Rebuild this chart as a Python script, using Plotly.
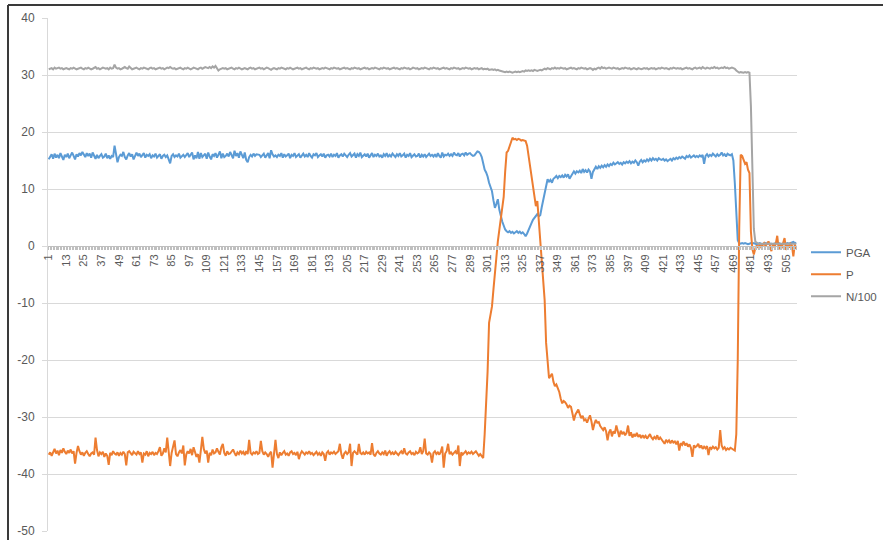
import plotly.graph_objects as go

N_POINTS = 512
categories = list(range(1, N_POINTS + 1))
tick_labels = [str(c) for c in range(1, 506, 12)]

pga = [
    15.2, 15.6, 16.1, 15.3, 16.2, 15.5, 16.0, 15.4, 16.3, 15.7, 15.1, 16.0,
    15.6, 16.2, 15.4, 15.9, 16.4, 15.8, 15.2, 16.1, 15.7, 16.3, 15.9, 16.5,
    16.0, 15.6, 16.3, 15.8, 16.2, 15.5, 16.4, 15.9, 15.3, 16.0, 15.4, 15.8,
    16.1, 15.5, 15.7, 16.2, 15.4, 15.9, 15.3, 15.8, 15.6, 17.6, 16.0, 14.7,
    15.6, 16.0, 15.8, 16.5, 15.6, 15.2, 15.9, 16.3, 15.7, 16.1, 15.2, 15.9,
    16.4, 15.8, 16.2, 15.6, 15.9, 16.3, 15.5, 16.0, 15.8, 16.1, 15.4, 15.9,
    15.7, 16.2, 15.5, 15.9, 16.1, 15.3, 15.8, 16.0, 15.6, 15.9, 15.2, 14.5,
    15.8, 16.1, 15.6, 15.9, 15.7, 16.2, 15.5, 15.8, 16.0, 15.6, 15.9, 16.3,
    15.6, 15.9, 16.4, 15.2, 15.9, 15.4, 16.5, 15.3, 16.3, 15.6, 15.9, 16.2,
    15.3, 16.4, 15.7, 15.2, 16.1, 15.8, 16.3, 15.5, 16.0, 16.6, 15.4, 16.2,
    15.6, 15.8, 16.2, 15.7, 16.5, 15.9, 15.4, 16.7, 15.8, 16.3, 15.5, 16.6,
    15.9, 15.4, 16.4, 15.1, 14.7, 15.6, 16.0, 15.7, 16.2, 15.8, 16.1, 16.0,
    16.0, 15.6, 15.9, 16.2, 15.5, 15.9, 16.3, 15.4, 16.8, 16.1, 15.7, 15.9,
    15.6, 16.0, 15.8, 16.3, 15.5, 16.1, 15.7, 15.9, 16.2, 15.4, 16.0, 15.8,
    16.3, 15.6, 15.9, 16.1, 15.5, 15.9, 16.2, 15.7, 16.0, 15.6, 16.3, 15.8,
    15.5, 16.1, 15.9, 16.3, 15.6, 15.9, 16.1, 15.7, 16.2, 15.5, 15.9, 16.0,
    15.7, 16.2, 15.6, 16.0, 15.8, 16.3, 15.5, 15.9, 16.1, 15.7, 16.2, 15.9,
    15.6, 16.0, 16.3, 15.7, 15.9, 16.2, 15.5, 16.1, 15.8, 16.4, 15.6, 15.9,
    16.1, 15.7, 16.2, 15.5, 15.9, 16.3, 15.6, 16.0, 15.8, 16.2, 15.7, 15.9,
    15.5, 16.1, 15.8, 16.3, 15.6, 16.0, 15.7, 16.2, 15.9, 15.6, 16.1, 15.8,
    16.3, 15.7, 15.9, 16.2, 15.5, 16.0, 15.8, 16.3, 15.6, 15.9, 16.1, 15.7,
    15.8, 16.2, 15.5, 16.0, 15.7, 16.1, 15.6, 15.9, 16.2, 15.8, 16.0, 15.7,
    16.1, 15.6, 16.3, 15.8, 15.5, 16.4, 15.7, 16.0, 15.9, 16.2, 15.8, 16.1,
    15.8, 16.4, 16.0, 15.9, 16.3, 15.7, 16.1, 16.2, 15.9, 16.4, 16.0, 16.2,
    16.3, 16.0, 15.8, 15.9, 16.2, 16.6, 16.5, 16.2, 15.6, 14.5, 13.4, 12.9,
    12.2, 11.1, 10.3, 9.6, 8.0, 6.7, 7.4, 8.2, 6.4, 5.2, 4.3, 3.6,
    2.9, 2.6, 2.4, 2.6, 2.3, 2.5, 2.2, 2.4, 2.6, 2.3, 2.5, 2.2,
    2.4, 2.1, 1.7, 2.2, 2.9, 3.4, 4.0, 4.6, 5.0, 5.3, 5.6, 5.2,
    5.4, 6.8, 8.2, 9.6, 10.5, 11.7, 11.3, 11.6, 11.1, 11.8, 12.0, 12.3,
    11.9, 12.3, 12.1, 12.4, 12.0, 12.5, 12.2, 12.6, 11.8, 12.3, 12.6, 13.1,
    12.7, 13.1, 12.9, 13.2, 12.8, 13.5, 13.0, 13.3, 12.9, 13.4, 13.1, 11.8,
    13.0, 13.6, 13.9, 13.5, 14.0, 13.7, 14.1, 13.8, 14.2, 13.9, 14.3, 14.0,
    14.4, 14.2, 14.6, 14.3, 14.5, 14.7, 14.4, 14.6, 14.3, 14.7, 14.5, 14.8,
    14.6, 14.9, 14.5, 14.8, 14.6, 15.0, 14.7, 14.1, 14.8, 15.1, 14.7, 15.0,
    14.8, 15.2, 14.9, 15.3, 15.0, 15.4, 15.1, 15.3, 15.0, 15.4, 15.2, 15.1,
    15.3, 15.0, 15.2, 14.9, 15.1, 15.3, 15.0, 15.4, 15.2, 15.5, 15.3, 15.6,
    15.4, 15.7, 15.5, 15.3, 15.8, 15.6, 15.9, 15.5, 15.7, 15.9, 15.6, 15.8,
    15.6, 15.9, 15.7, 16.0, 14.4, 15.8, 16.1, 15.7, 16.0, 15.8, 16.2, 15.9,
    15.7, 16.1, 15.8, 16.0, 16.4, 15.9, 16.1, 15.7, 16.2, 16.0, 15.9, 16.1,
    15.0, 11.0, 5.5, 1.0, 0.5, 0.4, 0.5, 0.4, 0.5, 0.4, 0.3, 0.4,
    0.5, 0.4, 0.5, 0.4, 0.3, 0.4, 0.5, 0.4, 0.3, 0.4, 0.5, 0.4,
    0.4, 0.5, 0.4, 0.3, 0.4, 0.5, 0.4, 0.5, 0.4, 0.3, 0.4, 0.5,
    0.4, 0.5, 0.4, 0.5, 0.6, 0.7, 0.5, 0.6,
]

p = [
    -36.6, -36.2, -36.8, -36.0, -35.6, -36.4, -35.9, -36.7, -35.8, -36.3, -35.5, -36.1,
    -36.5, -35.9, -36.3, -35.7, -36.4, -36.0, -38.2, -36.3, -35.1, -36.0, -36.6, -36.2,
    -36.8, -36.3, -36.0, -36.5, -36.9, -36.4, -36.2, -36.6, -33.6, -35.8, -36.9, -36.2,
    -36.5, -36.1, -37.0, -36.4, -36.8, -38.4, -36.3, -36.7, -36.0, -36.4, -36.6, -36.2,
    -36.8, -36.3, -36.6, -36.1, -36.5, -38.5, -36.2, -36.0, -36.4, -36.7, -36.1, -36.3,
    -36.6, -36.0, -36.5, -36.2, -38.0, -36.4, -36.6, -36.0, -36.9, -36.3, -36.5, -36.1,
    -36.7, -36.3, -36.5, -36.0, -35.3, -36.8, -36.4, -35.5, -36.2, -33.6, -36.1, -38.6,
    -36.3, -35.2, -34.1, -36.5, -36.9, -36.2, -35.8, -36.4, -35.0, -38.5, -36.6, -36.0,
    -36.4, -35.6, -36.7, -35.3, -36.2, -37.0, -36.5, -38.0, -35.8, -33.5, -35.6, -36.4,
    -35.9, -38.0, -36.3, -36.7, -35.7, -36.4, -36.2, -35.5, -36.1, -36.6, -35.3, -34.7,
    -36.3, -36.8, -36.0, -36.5, -36.4, -36.1, -35.7, -36.3, -36.8, -36.2, -36.5, -35.9,
    -36.4, -36.1, -36.7, -36.0, -36.5, -34.0, -36.3, -36.6, -36.2, -36.4, -36.0, -36.5,
    -36.3, -34.2, -36.0, -36.6, -36.2, -36.5, -37.0, -36.4, -36.1, -38.9, -36.3, -34.0,
    -36.5, -37.2, -36.2, -36.7, -36.3, -36.0, -36.6, -36.4, -36.8, -36.2, -36.0, -36.5,
    -36.3, -36.7, -36.1, -37.4, -36.5, -36.0, -36.3, -36.6, -36.2, -36.4, -36.0, -36.5,
    -36.3, -36.7, -36.4, -36.1, -36.6, -36.3, -36.8, -36.2, -36.5, -37.7, -36.3, -36.0,
    -36.6, -36.2, -36.4, -36.1, -36.5, -36.3, -36.0, -34.7, -36.5, -37.3, -36.4, -36.1,
    -36.5, -36.2, -34.7, -38.6, -36.3, -36.0, -36.4, -36.6, -34.7, -36.3, -36.5, -36.2,
    -36.6, -36.1, -36.4, -36.2, -36.6, -34.6, -36.5, -36.9, -36.3, -36.0, -36.4, -36.6,
    -36.2, -36.5, -35.9, -36.8, -36.3, -36.0, -36.5, -36.2, -36.6, -36.1, -36.4, -36.7,
    -36.3, -36.0, -36.5, -35.5, -36.4, -36.6, -36.2, -36.0, -36.5, -36.3, -36.7, -36.1,
    -36.4, -36.2, -35.3, -36.5, -36.0, -33.8, -36.4, -36.6, -36.2, -36.5, -38.0, -36.3,
    -36.0, -36.5, -36.2, -36.6, -36.1, -35.2, -38.9, -36.4, -36.0, -34.7, -36.5, -36.2,
    -36.6, -36.3, -36.0, -36.5, -35.0, -38.6, -36.2, -36.6, -36.3, -36.0, -36.5, -36.2,
    -36.4, -36.1, -36.5, -36.3, -36.0, -36.4, -36.8, -36.5, -36.9, -37.2, -33.0, -28.0,
    -22.0, -13.5, -12.0, -10.6, -7.6, -4.6, -1.6, 0.8, 2.8, 4.8, 6.8, 8.6,
    13.0, 16.4, 16.7, 17.6, 18.3, 19.0, 18.7, 18.8, 18.6, 18.8, 18.7, 18.5,
    18.6, 18.5, 18.4, 17.6, 15.8, 13.8, 12.0, 10.0, 8.2, 7.0, 7.9, 4.2,
    1.2, -1.8, -5.5, -9.5, -17.0, -20.5, -23.2, -22.8, -22.4, -23.8, -24.6, -24.3,
    -25.0, -25.6, -26.8, -27.6, -27.2, -27.4, -27.8, -28.4, -28.0, -28.2, -29.4, -30.6,
    -29.6, -29.0, -28.7, -29.5, -30.2, -29.8, -30.6, -30.4, -31.0, -30.3, -29.7, -30.8,
    -32.3, -31.2, -30.5, -31.0, -30.9, -31.6, -31.9, -32.3, -31.8, -32.5, -34.1, -32.7,
    -32.2, -33.4, -32.5, -32.9, -31.5, -32.8, -33.5, -32.4, -33.0, -32.6, -33.2, -32.8,
    -31.5, -33.3, -32.7, -33.6, -33.0, -33.4, -32.8, -33.5, -33.1, -33.7, -33.2, -33.6,
    -33.3, -33.8, -33.4, -33.0, -33.6, -33.9, -33.5, -33.8, -33.2, -34.0, -33.6, -33.9,
    -34.2, -34.7, -34.0, -34.4, -34.1, -34.6, -34.1, -34.5, -34.3, -34.8, -34.2, -35.9,
    -34.6, -34.9, -34.3, -35.0, -34.6, -35.2, -34.8, -35.4, -37.0, -35.0, -35.3, -35.1,
    -34.7, -35.4, -35.0, -35.6, -35.2, -35.5, -35.1, -36.7, -35.3, -35.6, -35.2, -35.5,
    -35.3, -35.7, -35.4, -32.3, -35.0, -35.6, -35.3, -35.8, -35.5, -35.7, -35.4, -35.6,
    -35.8, -35.9, -33.0, -20.0, 3.0, 16.0, 15.8, 15.2, 14.4, 14.7, 13.4, 12.8,
    2.5, -0.6, -1.5, -0.4, 0.1, -0.3, 0.3, -0.2, 0.2, 0.5, 0.0, 0.4,
    0.8, 0.1, -0.9, 0.3, -0.2, 0.4, 1.8, -0.6, 0.2, -0.4, 0.6, 1.4,
    -0.7, 0.2, -0.3, 0.4, 0.1, -1.8, 0.3, -0.5,
]

n100 = [
    31.0, 31.1, 31.2, 31.0, 31.3, 31.1, 31.2, 31.3, 31.1, 31.2, 31.0, 31.1,
    31.2, 31.1, 31.0, 31.2, 31.1, 31.3, 31.2, 31.0, 31.1, 31.2, 31.3, 31.1,
    31.0, 31.2, 31.1, 31.3, 31.2, 31.0, 31.1, 31.2, 31.4, 31.1, 31.2, 31.0,
    31.1, 31.3, 31.2, 31.1, 31.2, 31.0, 31.3, 31.1, 31.2, 31.8, 31.3, 31.1,
    31.2, 31.0, 31.1, 31.2, 31.4, 31.2, 31.1, 31.5, 31.2, 31.0, 31.1, 31.2,
    31.3, 31.1, 31.0, 31.2, 31.1, 31.3, 31.2, 31.1, 31.0, 31.2, 31.3, 31.1,
    31.2, 31.0, 31.1, 31.2, 31.3, 31.1, 31.2, 31.0, 31.1, 31.3, 31.2, 31.4,
    31.2, 31.1, 31.2, 31.0, 31.1, 31.2, 31.3, 31.1, 31.0, 31.2, 31.1, 31.3,
    31.2, 31.0, 31.1, 31.3, 31.2, 31.1, 31.0, 31.2, 31.3, 31.1, 31.2, 31.4,
    31.3, 31.2, 31.4, 31.2, 31.5, 31.3, 31.6, 31.2, 30.8, 31.0, 31.1, 31.2,
    31.1, 31.2, 31.0, 31.1, 31.2, 31.3, 31.1, 31.0, 31.2, 31.1, 31.3, 31.2,
    31.0, 31.1, 31.2, 31.1, 31.0, 31.2, 31.3, 31.1, 31.2, 31.0, 31.1, 31.2,
    31.3, 31.1, 31.2, 31.0, 31.1, 31.3, 31.2, 31.1, 30.9, 31.1, 31.2, 31.1,
    31.0, 31.2, 31.1, 31.3, 31.2, 31.1, 31.0, 31.2, 31.1, 31.3, 31.2, 31.0,
    31.1, 31.2, 31.3, 31.1, 31.2, 31.0, 31.1, 31.2, 31.3, 31.1, 31.0, 31.2,
    31.1, 31.3, 31.2, 31.1, 31.2, 31.0, 31.1, 31.2, 31.1, 31.3, 31.2, 31.1,
    31.0, 31.2, 31.1, 31.3, 31.2, 31.1, 31.2, 31.0, 31.1, 31.2, 31.3, 31.1,
    31.2, 31.1, 31.0, 31.2, 31.1, 31.3, 31.2, 31.1, 31.2, 31.0, 31.1, 31.2,
    31.3, 31.1, 31.2, 31.0, 31.1, 31.2, 31.1, 31.3, 31.2, 31.1, 31.0, 31.2,
    31.1, 31.3, 31.2, 31.1, 31.2, 31.0, 31.1, 31.2, 31.3, 31.1, 31.2, 31.1,
    31.0, 31.2, 31.1, 31.3, 31.2, 31.1, 31.2, 31.0, 31.1, 31.3, 31.2, 31.1,
    31.2, 31.0, 31.1, 31.2, 31.1, 31.3, 31.2, 31.1, 31.0, 31.2, 31.1, 31.3,
    31.2, 31.1, 31.2, 31.0, 31.1, 31.2, 31.3, 31.1, 31.2, 31.1, 31.0, 31.2,
    31.1, 31.3, 31.2, 31.1, 31.2, 31.0, 31.1, 31.2, 31.1, 31.3, 31.2, 31.1,
    31.2, 31.0, 31.1, 31.2, 31.1, 31.2, 31.0, 31.1, 31.2, 31.0, 31.1, 31.0,
    31.1, 30.9, 31.0, 31.0, 30.9, 31.0, 30.8, 30.9, 30.8, 30.7, 30.6, 30.6,
    30.5, 30.6, 30.5, 30.6, 30.5, 30.4, 30.5, 30.6, 30.5, 30.6, 30.5, 30.6,
    30.7, 30.6, 30.8, 30.7, 30.8, 30.7, 30.8, 30.7, 30.9, 30.8, 30.7, 30.8,
    30.9, 30.8, 31.0, 31.1, 31.0, 31.2, 31.1, 31.0, 31.2, 31.1, 31.3, 31.1,
    31.2, 31.1, 31.3, 31.2, 31.1, 31.2, 31.0, 31.1, 31.2, 31.3, 31.1, 31.2,
    31.1, 31.0, 31.2, 31.1, 31.3, 31.2, 31.1, 31.2, 31.0, 31.1, 31.2, 31.1,
    30.9, 31.1, 31.0, 31.2, 31.3, 31.1, 31.4, 31.2, 31.3, 31.1, 31.2, 31.3,
    31.2, 31.1, 31.3, 31.2, 31.1, 31.2, 31.0, 31.1, 31.2, 31.1, 31.3, 31.2,
    31.1, 31.2, 31.0, 31.1, 31.2, 31.1, 31.0, 31.2, 31.1, 31.0, 31.1, 31.2,
    31.1, 31.2, 31.0, 31.1, 31.2, 31.1, 31.2, 31.0, 31.1, 31.2, 31.1, 31.3,
    31.2, 31.1, 31.2, 31.1, 31.0, 31.2, 31.1, 31.3, 31.2, 31.1, 31.2, 31.1,
    31.2, 31.0, 31.1, 31.2, 31.3, 31.1, 31.2, 31.1, 31.0, 31.2, 31.3, 31.1,
    31.2, 31.3, 31.1, 31.4, 31.2, 31.1, 31.3, 31.2, 31.1, 31.3, 31.2, 31.4,
    31.2, 31.3, 31.1, 31.2, 31.3, 31.2, 31.4, 31.2, 31.3, 31.1, 31.2, 31.3,
    31.2, 31.1, 30.8, 30.5, 30.4, 30.5, 30.4, 30.4, 30.5, 30.4, 30.5, 30.4,
    24.5, 12.0, 3.0, 0.8, 0.5, 0.4, 0.4, 0.3, 0.4, 0.4, 0.3, 0.4,
    0.3, 0.4, 0.4, 0.3, 0.4, 0.3, 0.4, 0.4, 0.3, 0.4, 0.3, 0.4,
    0.4, 0.3, 0.4, 0.3, 0.4, 0.4, 0.3, 0.4,
]

series_names = ["PGA", "P", "N/100"]
series_colors = ["#5B9BD5", "#ED7D31", "#A5A5A5"]
y_ticks = [-50, -40, -30, -20, -10, 0, 10, 20, 30, 40]
y_tick_labels = ["-50", "-40", "-30", "-20", "-10", "0", "10", "20", "30", "40"]

tick_text = [str(c) if str(c) in tick_labels else "" for c in categories]

fig = go.Figure()
for name, vals, col in zip(series_names, [pga, p, n100], series_colors):
    fig.add_trace(go.Scatter(
        x=categories[:len(vals)], y=vals, mode="lines", name=name,
        line=dict(color=col, width=2), legendgroup=name,
    ))

fig.update_layout(
    width=883, height=540,
    margin=dict(l=48, r=86, t=18, b=9, autoexpand=False),
    paper_bgcolor="white", plot_bgcolor="white",
    font=dict(family="Liberation Sans, Arial, sans-serif", color="#595959"),
    showlegend=True,
    legend=dict(
        x=1.012, xanchor="left", y=0.5715, yanchor="top",
        font=dict(size=11.5, color="#595959"),
        traceorder="grouped", tracegroupgap=3,
        itemwidth=30, bgcolor="rgba(0,0,0,0)",
    ),
    xaxis=dict(
        range=[0.5, N_POINTS + 0.5],
        anchor="free", position=50 / 90, automargin=False,
        tickmode="array", tickvals=categories, ticktext=tick_text,
        tickangle=-90, ticks="outside", ticklen=3, tickcolor="#bfbfbf",
        tickfont=dict(size=11, color="#595959"),
        showline=True, linecolor="#bfbfbf", linewidth=1,
        showgrid=False, zeroline=False,
    ),
    yaxis=dict(
        range=[-50, 40], tickmode="array", tickvals=y_ticks, ticktext=y_tick_labels,
        automargin=False,
        showgrid=True, gridcolor="#d9d9d9", gridwidth=1,
        zeroline=False, showline=True, linecolor="#d9d9d9",
        ticks="outside", ticklen=5, tickcolor="#d9d9d9",
        ticklabelstandoff=5,
        tickfont=dict(size=12, color="#595959"),
    ),
    shapes=[
        dict(type="line", xref="paper", yref="paper",
             x0=-0.0534, x1=1.3, y0=1.0253, y1=1.0253,
             line=dict(color="#3a3a3a", width=2)),
        dict(type="line", xref="paper", yref="paper",
             x0=-0.0534, x1=-0.0534, y0=1.0253, y1=-0.1,
             line=dict(color="#3a3a3a", width=2)),
    ],
)

fig.write_html(
    "out.html",
    config={"displayModeBar": False},
    post_script="document.body.style.margin='0';document.body.style.overflow='hidden';",
)
